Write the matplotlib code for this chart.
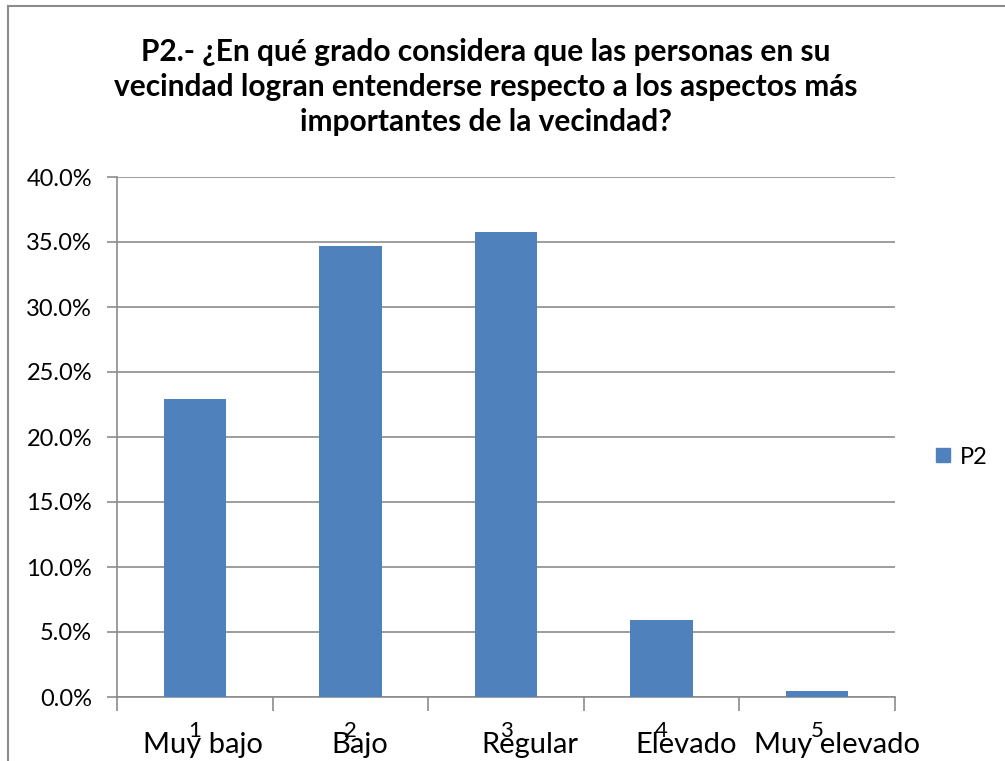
import numpy as np
import matplotlib.pyplot as plt
from matplotlib.lines import Line2D

plt.rcParams['font.family'] = ['Lato', 'DejaVu Sans']

# data
codes = ['1', '2', '3', '4', '5']
labels = ['Muy bajo', 'Bajo', 'Regular', 'Elevado', 'Muy elevado']
values = [22.9, 34.7, 35.8, 5.9, 0.5]
series_name = 'P2'
title = ('P2.- ¿En qué grado considera que las personas en su\n'
         'vecindad logran entenderse respecto a los aspectos más\n'
         'importantes de la vecindad?')

bar_color = '#4F81BD'
grid_color = '#8C8C8C'

fig = plt.figure(figsize=(10.05, 7.61), dpi=100)
ax = fig.add_axes([117/1005, 1 - 697/761, (895 - 117)/1005, (697 - 177)/761])

x = np.arange(len(codes))
ax.bar(x, values, width=0.4, color=bar_color, zorder=3, label=series_name)

ax.set_xlim(-0.5, len(codes) - 0.5)
ax.set_ylim(0, 40)
ax.set_yticks(np.arange(0, 40.1, 5))
ax.set_yticklabels([f'{v:.1f}%' for v in np.arange(0, 40.1, 5)], fontsize=17)
ax.yaxis.grid(True, color=grid_color, linewidth=1.2, zorder=0)

ax.set_xticks(x)
ax.set_xticklabels(codes, fontsize=16)
ax.tick_params(axis='x', which='major', length=0, pad=17)
ax.set_xticks(np.arange(-0.5, len(codes)), minor=True)
ax.tick_params(axis='x', which='minor', length=10, color=grid_color, width=1.2)
ax.tick_params(axis='y', length=7, color=grid_color, width=1.2, pad=11)

for s in ['top', 'right']:
    ax.spines[s].set_visible(False)
for s in ['left', 'bottom']:
    ax.spines[s].set_color(grid_color)
    ax.spines[s].set_linewidth(1.2)

# category names drawn as separate text boxes below the codes
label_offsets = [0.053, 0.06, 0.154, 0.157, 0.127]
for xi, lab, off in zip(x, labels, label_offsets):
    ax.text(xi + off, -0.0925, lab, transform=ax.get_xaxis_transform(),
            ha='center', va='center', fontsize=21, zorder=5)

fig.text(0.4836, 1 - 87/761, title, ha='center', va='center',
         fontsize=21.5, fontweight='bold', linespacing=1.32)

handle = Line2D([], [], marker='s', linestyle='none', markersize=10,
                color=bar_color)
fig.legend([handle], [series_name], loc='center left',
           bbox_to_anchor=(934/1005, 1 - 457/761), frameon=False,
           fontsize=17, handlelength=0.8, handletextpad=0.3, borderaxespad=0,
           borderpad=0)

# outer chart border
fig.add_artist(Line2D([8/1005, 8/1005], [0, 1 - 6/761], color='#8C8C8C',
                      linewidth=1.5, transform=fig.transFigure))
fig.add_artist(Line2D([8/1005, 1], [1 - 6/761, 1 - 6/761], color='#8C8C8C',
                      linewidth=1.5, transform=fig.transFigure))

fig.savefig('out.png', dpi=100)
